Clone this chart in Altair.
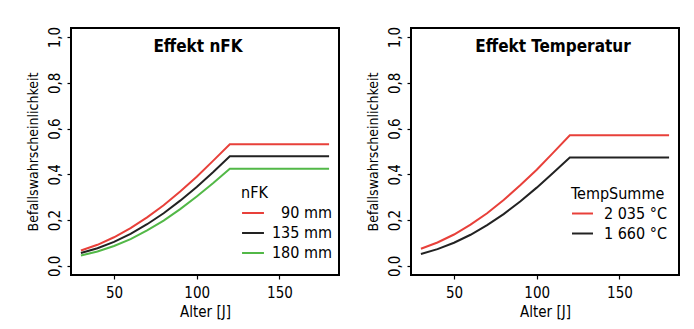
import altair as alt
import pandas as pd

AGES = [30, 40, 50, 60, 70, 80, 90, 100, 110, 120, 180]

# Left panel: Effekt nFK
NFK_LABELS = ["90 mm", "135 mm", "180 mm"]
NFK_90 = [0.067, 0.092, 0.125, 0.165, 0.212, 0.265, 0.325, 0.390, 0.460, 0.532, 0.532]
NFK_135 = [0.056, 0.077, 0.105, 0.140, 0.182, 0.230, 0.285, 0.345, 0.410, 0.479, 0.479]
NFK_180 = [0.045, 0.063, 0.087, 0.117, 0.155, 0.198, 0.248, 0.303, 0.362, 0.425, 0.425]
NFK_COLORS = ["#e8403a", "#222222", "#52b847"]

# Right panel: Effekt Temperatur
TEMP_LABELS = ["2 035 °C", "1 660 °C"]
TEMP_2035 = [0.075, 0.102, 0.137, 0.180, 0.230, 0.288, 0.352, 0.420, 0.495, 0.571, 0.571]
TEMP_1660 = [0.052, 0.073, 0.101, 0.136, 0.178, 0.226, 0.281, 0.342, 0.407, 0.474, 0.474]
TEMP_COLORS = ["#e8403a", "#222222"]

X_TICKS = [50, 100, 150]
Y_TICKS = [0.0, 0.2, 0.4, 0.6, 0.8, 1.0]

FONT = "DejaVu Sans Condensed"

def frame(labels, series):
    rows = []
    for lab, vals in zip(labels, series):
        for a, v in zip(AGES, vals):
            rows.append({"Alter": a, "p": v, "grp": lab})
    return pd.DataFrame(rows)

df_left = frame(NFK_LABELS, [NFK_90, NFK_135, NFK_180])
df_right = frame(TEMP_LABELS, [TEMP_2035, TEMP_1660])

x_enc = alt.X("Alter:Q", scale=alt.Scale(domain=[24, 186], nice=False, zero=False),
              axis=alt.Axis(values=X_TICKS, title="Alter [J]", grid=False, domain=False,
                            tickColor="black", tickSize=4, tickWidth=1.2,
                            labelPadding=6, titlePadding=4))
y_enc = alt.Y("p:Q", scale=alt.Scale(domain=[-0.04, 1.04], nice=False, zero=False),
              axis=alt.Axis(values=Y_TICKS, title="Befallswahrscheinlichkeit", grid=False,
                            domain=False, tickColor="black", tickSize=4, tickWidth=1.2,
                            labelAngle=270, labelAlign="center", labelBaseline="bottom",
                            labelPadding=5, titlePadding=7, titleFontSize=14,
                            labelExpr="replace(format(datum.value, '.1f'), '.', ',')"))


def panel(df, labels, colors, title, legend_title, lx, ly, sym, loff, dx):
    return alt.Chart(df).mark_line(strokeWidth=2).encode(
        x=x_enc,
        y=y_enc,
        color=alt.Color("grp:N", scale=alt.Scale(domain=labels, range=colors),
                        sort=labels,
                        legend=alt.Legend(title=legend_title, orient="none",
                                          legendX=lx, legendY=ly,
                                          symbolType="stroke", symbolSize=sym,
                                          symbolStrokeWidth=2, labelAlign="right",
                                          labelOffset=loff,
                                          padding=0, rowPadding=0, titlePadding=0)),
    ).properties(
        width=268, height=247,
        title=alt.TitleParams(title, offset=-30, fontSize=17, fontWeight="bold",
                              anchor="middle", dx=dx, font=FONT, color="black"),
    )


left = panel(df_left, NFK_LABELS, NFK_COLORS, "Effekt nFK", "nFK", 170, 157, 480, 67, -7)
right = panel(df_right, TEMP_LABELS, TEMP_COLORS, "Effekt Temperatur", "TempSumme", 160, 158, 440, 73, 8)

chart = alt.hconcat(left, right, spacing=25).resolve_scale(
    color="independent"
).resolve_legend(
    color="independent"
).properties(
    padding={"left": 17, "top": 17, "right": 5, "bottom": 5},
    background="white",
).configure_view(
    stroke="black", strokeWidth=2
).configure_axis(
    labelFont=FONT, titleFont=FONT, labelFontSize=15, titleFontSize=15,
    labelColor="black", titleColor="black", titleFontWeight="normal"
).configure_legend(
    labelFont=FONT, titleFont=FONT, labelFontSize=16, titleFontSize=16,
    labelColor="black", titleColor="black", titleFontWeight="normal"
)

chart.save("out.html", embed_options={"renderer": "svg", "actions": False})
